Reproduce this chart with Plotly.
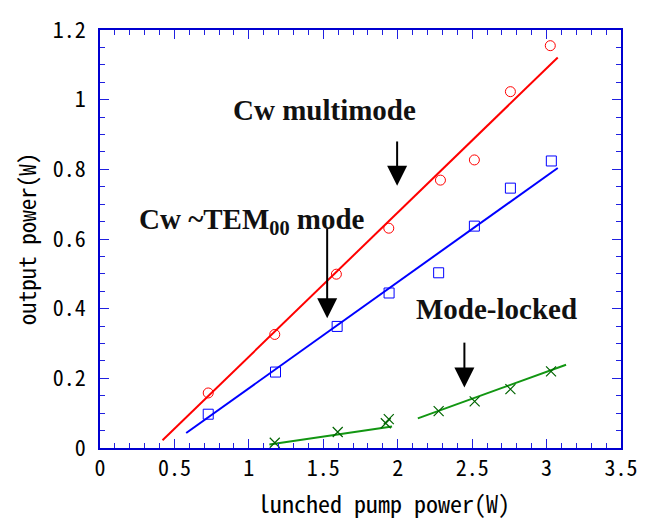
import plotly.graph_objects as go

# Launched pump power (W) and measured output power (W)
cw_multi_x = [0.727, 1.174, 1.588, 1.940, 2.287, 2.515, 2.757, 3.025]
cw_multi_y = [0.158, 0.326, 0.499, 0.631, 0.769, 0.827, 1.023, 1.155]

cw_tem_x = [0.727, 1.179, 1.593, 1.942, 2.275, 2.515, 2.757, 3.032]
cw_tem_y = [0.097, 0.218, 0.349, 0.445, 0.503, 0.637, 0.746, 0.824]

ml_x = [1.174, 1.597, 1.920, 1.940, 2.275, 2.517, 2.757, 3.030]
ml_y = [0.015, 0.046, 0.071, 0.083, 0.106, 0.134, 0.169, 0.220]

# Linear fits (end points of each fitted line)
cw_multi_fit_x = [0.42, 3.075]
cw_multi_fit_y = [0.022, 1.121]
cw_tem_fit_x = [0.579, 3.075]
cw_tem_fit_y = [0.043, 0.804]
ml_fit1_x = [1.138, 1.962]
ml_fit1_y = [0.010, 0.062]
ml_fit2_x = [2.135, 3.131]
ml_fit2_y = [0.085, 0.239]

# Labels with arrows: text, text position, arrow x, arrow tail y, arrow tip y
labels = [
    ("<b>Cw multimode</b>", 1.507, 0.970, 1.996, 0.880, 0.753),
    ("<b>Cw ~TEM<sub>00</sub> mode</b>", 1.022, 0.653, 1.526, 0.629, 0.3725),
    ("<b>Mode-locked</b>", 2.665, 0.399, 2.448, 0.3025, 0.1737),
]

x_title = "lunched pump power(W)"
y_title = "output power(W)"

MONO = "Noto Sans Mono CJK JP, DejaVu Sans Mono, monospace"

fig = go.Figure()

fig.add_trace(go.Scatter(x=cw_multi_fit_x, y=cw_multi_fit_y, mode="lines",
                         line=dict(color="#ff0000", width=2), showlegend=False))
fig.add_trace(go.Scatter(x=cw_tem_fit_x, y=cw_tem_fit_y, mode="lines",
                         line=dict(color="#0000ff", width=2), showlegend=False))
fig.add_trace(go.Scatter(x=ml_fit1_x, y=ml_fit1_y, mode="lines",
                         line=dict(color="#129612", width=2), showlegend=False))
fig.add_trace(go.Scatter(x=ml_fit2_x, y=ml_fit2_y, mode="lines",
                         line=dict(color="#129612", width=2), showlegend=False))

fig.add_trace(go.Scatter(x=cw_multi_x, y=cw_multi_y, mode="markers",
                         marker=dict(symbol="circle-open", size=10,
                                     color="#ff0000", line=dict(width=1)),
                         showlegend=False))
fig.add_trace(go.Scatter(x=cw_tem_x, y=cw_tem_y, mode="markers",
                         marker=dict(symbol="square-open", size=10,
                                     color="#0000ff", line=dict(width=1)),
                         showlegend=False))
fig.add_trace(go.Scatter(x=ml_x, y=ml_y, mode="markers",
                         marker=dict(symbol="x-thin-open", size=10,
                                     color="#006400", line=dict(width=1.2)),
                         showlegend=False))

shapes = []
annotations = []
for text, tx, ty, ax_x, tail_y, tip_y in labels:
    annotations.append(dict(x=tx, y=ty, xref="x", yref="y", text=text,
                            showarrow=False, xanchor="center", yanchor="middle",
                            font=dict(family="Liberation Serif", size=29,
                                      color="#111111")))
    shapes.append(dict(type="line", xref="x", yref="y", x0=ax_x, x1=ax_x,
                       y0=tail_y, y1=tip_y + 0.03,
                       line=dict(color="black", width=2)))
    shapes.append(dict(type="path", xref="x", yref="y",
                       xsizemode="pixel", ysizemode="pixel",
                       xanchor=ax_x, yanchor=tip_y,
                       path="M -10,20 L 10,20 L 0,0 Z",
                       fillcolor="black", line=dict(color="black", width=0)))

# x-axis title, set slightly right of the plot centre
annotations.append(dict(x=0.545, y=-0.131, xref="paper", yref="paper",
                        text=x_title, showarrow=False,
                        xanchor="center", yanchor="middle",
                        font=dict(family=MONO, size=24, color="black")))

axis_common = dict(
    showline=True, linecolor="#0000d0", linewidth=1.5, mirror="allticks",
    ticks="inside", ticklen=9, tickwidth=1, tickcolor="#2020e0",
    showgrid=False, zeroline=False,
    tickfont=dict(family=MONO, size=22, color="black"),
)

fig.update_xaxes(range=[0, 3.5], dtick=0.5, tick0=0,
                 minor=dict(ticks="inside", dtick=0.1, ticklen=5,
                            tickcolor="#2020e0", tickwidth=1),
                 ticklabelstandoff=0,
                 **axis_common)
fig.update_yaxes(range=[0, 1.2], dtick=0.2, tick0=0,
                 minor=dict(ticks="inside", dtick=0.05, ticklen=5,
                            tickcolor="#2020e0", tickwidth=1),
                 title=dict(text=y_title, standoff=10,
                            font=dict(family=MONO, size=23, color="black")),
                 ticklabelstandoff=8,
                 **axis_common)

fig.update_layout(
    width=656, height=523,
    margin=dict(l=100, r=35, t=20, b=75),
    plot_bgcolor="white", paper_bgcolor="white",
    shapes=shapes, annotations=annotations,
)

fig.write_html("out.html")
